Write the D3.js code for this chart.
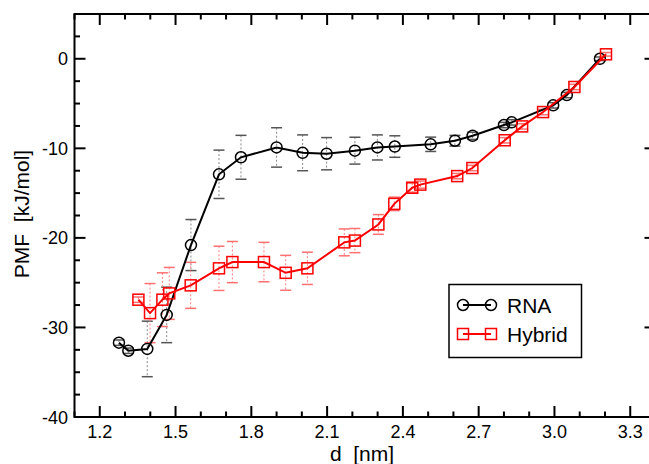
<!DOCTYPE html>
<html>
<head>
<meta charset="utf-8">
<script src="https://cdn.jsdelivr.net/npm/d3@7"></script>
<style>
  body { margin: 0; background: #fff; }
  svg { display: block; font-family: "Liberation Sans", Arial, sans-serif; }
</style>
</head>
<body>
<svg class="mainSvg"></svg>
<script>
(function () {
  // ===========================================================================
  //     data area
  // ===========================================================================
  const rnaX = [1.276, 1.313, 1.388, 1.465, 1.561, 1.672, 1.759, 1.9, 2.003, 2.098, 2.21,
    2.299, 2.368, 2.51, 2.606, 2.676, 2.80, 2.831, 2.995, 3.049, 3.18];
  const rnaY = [-31.7, -32.6, -32.4, -28.6, -20.8, -12.9, -11.0, -9.9, -10.5, -10.6, -10.26,
    -9.9, -9.8, -9.55, -9.15, -8.6, -7.4, -7.1, -5.2, -4.05, 0];
  const rnaErr = [0.3, 0.3, 3.1, 3.1, 2.85, 2.7, 2.45, 2.2, 2.0, 1.8, 1.5,
    1.4, 1.2, 0.8, 0.6, 0.4, 0.3, 0.3, 0.3, 0.3, 0.2];

  const hybX = [1.353, 1.399, 1.448, 1.475, 1.56, 1.672, 1.725, 1.85, 1.936, 2.022, 2.168, 2.21,
    2.303, 2.366, 2.437, 2.469, 2.615, 2.675, 2.803, 2.872, 2.955, 3.079, 3.204];
  const hybY = [-26.9, -28.4, -26.9, -26.2, -25.3, -23.4, -22.7, -22.7, -23.9, -23.4, -20.5, -20.3,
    -18.5, -16.2, -14.4, -14.05, -13.1, -12.2, -9.1, -7.55, -5.95, -3.15, 0.5];
  const hybErr = [0.3, 3.3, 3.0, 2.9, 2.57, 2.47, 2.3, 2.2, 1.95, 1.8, 1.5, 1.35,
    1.1, 0.75, 0.5, 0.4, 0.3, 0.3, 0.3, 0.3, 0.3, 0.3, 0.2];

  const xTicks = [1.2, 1.5, 1.8, 2.1, 2.4, 2.7, 3.0, 3.3];
  const yTicks = [0, -10, -20, -30, -40];
  const seriesNames = ['RNA', 'Hybrid'];

  const initWidth = 649;
  const initHeight = 464;
  const plot = { left: 74.5, top: 14, right: 655.5, bottom: 417 };

  // ===========================================================================
  //      procedure
  // ===========================================================================
  const svg = d3.select('.mainSvg')
    .attr('width', initWidth)
    .attr('height', initHeight);

  const x = d3.scaleLinear().domain([1.1, 3.4]).range([plot.left, plot.right]);
  const y = d3.scaleLinear().domain([-40, 5]).range([plot.bottom, plot.top]);

  const series = [
    {
      name: seriesNames[0], color: '#000', errColor: '#888', capColor: '#555', shape: 'circle',
      points: rnaX.map((v, i) => ({ x: v, y: rnaY[i], e: rnaErr[i] })),
    },
    {
      name: seriesNames[1], color: '#ff0000', errColor: '#ff8080', capColor: '#ff7070', shape: 'square',
      points: hybX.map((v, i) => ({ x: v, y: hybY[i], e: hybErr[i] })),
    },
  ];

  // ===========================================================================
  //      axes
  // ===========================================================================
  const minorX = d3.range(1.1, 3.41, 0.1).map(v => +v.toFixed(2));
  const minorY = d3.range(-40, 5.1, 2.5);

  const frame = svg.append('g').attr('stroke', '#000').attr('stroke-width', 2);
  frame.append('rect')
    .attr('x', plot.left).attr('y', plot.top)
    .attr('width', plot.right - plot.left).attr('height', plot.bottom - plot.top)
    .attr('fill', 'none');

  minorX.forEach(function (v) {
    const major = xTicks.some(t => Math.abs(t - v) < 1e-6);
    const len = major ? 11 : 5.5;
    frame.append('line').attr('x1', x(v)).attr('x2', x(v))
      .attr('y1', plot.bottom).attr('y2', plot.bottom - len);
    frame.append('line').attr('x1', x(v)).attr('x2', x(v))
      .attr('y1', plot.top).attr('y2', plot.top + len);
  });
  minorY.forEach(function (v) {
    const major = yTicks.indexOf(v) >= 0;
    const len = major ? 11 : 5.5;
    frame.append('line').attr('y1', y(v)).attr('y2', y(v))
      .attr('x1', plot.left).attr('x2', plot.left + len);
    frame.append('line').attr('y1', y(v)).attr('y2', y(v))
      .attr('x1', plot.right).attr('x2', plot.right - len);
  });

  svg.append('g').selectAll('text')
    .data(xTicks)
    .enter()
    .append('text')
    .attr('x', d => x(d))
    .attr('y', 438)
    .attr('text-anchor', 'middle')
    .attr('font-size', 18)
    .text(d => d.toFixed(1));

  svg.append('g').selectAll('text')
    .data(yTicks)
    .enter()
    .append('text')
    .attr('x', 68)
    .attr('y', d => y(d) + 6.5)
    .attr('text-anchor', 'end')
    .attr('font-size', 18)
    .text(d => d);

  svg.append('text')
    .attr('x', 362).attr('y', 461)
    .attr('text-anchor', 'middle')
    .attr('font-size', 21)
    .attr('xml:space', 'preserve')
    .text('d  [nm]');

  svg.append('text')
    .attr('transform', 'translate(29,214) rotate(-90)')
    .attr('text-anchor', 'middle')
    .attr('font-size', 21)
    .attr('xml:space', 'preserve')
    .text('PMF  [kJ/mol]');

  // ===========================================================================
  //      error bars, lines, markers
  // ===========================================================================
  function drawMarker(g, shape, cx, cy, color) {
    if (shape === 'circle') {
      g.append('circle').attr('cx', cx).attr('cy', cy).attr('r', 5.5)
        .attr('fill', 'none').attr('stroke', color).attr('stroke-width', 1.5);
    } else {
      g.append('rect').attr('x', cx - 5.5).attr('y', cy - 5.5)
        .attr('width', 11).attr('height', 11)
        .attr('fill', 'none').attr('stroke', color).attr('stroke-width', 1.5);
    }
  }

  const line = d3.line().x(d => x(d.x)).y(d => y(d.y));

  series.forEach(function (s) {
    const eg = svg.append('g');
    s.points.forEach(function (p) {
      const top = y(p.y + p.e);
      const bot = y(p.y - p.e);
      eg.append('line').attr('x1', x(p.x)).attr('x2', x(p.x))
        .attr('y1', top).attr('y2', bot)
        .attr('stroke', s.errColor).attr('stroke-width', 1)
        .attr('stroke-dasharray', '2,2');
      [top, bot].forEach(function (yy) {
        eg.append('line').attr('x1', x(p.x) - 5.5).attr('x2', x(p.x) + 5.5)
          .attr('y1', yy).attr('y2', yy)
          .attr('stroke', s.capColor).attr('stroke-width', 1.5);
      });
    });
  });

  series.forEach(function (s) {
    svg.append('path')
      .attr('d', line(s.points))
      .attr('fill', 'none')
      .attr('stroke', s.color)
      .attr('stroke-width', 2);
    const mg = svg.append('g');
    s.points.forEach(function (p) {
      drawMarker(mg, s.shape, x(p.x), y(p.y), s.color);
    });
  });

  // ===========================================================================
  //      legend
  // ===========================================================================
  const legend = svg.append('g');
  legend.append('rect')
    .attr('x', 449).attr('y', 284.5).attr('width', 132.5).attr('height', 73)
    .attr('fill', '#fff').attr('stroke', '#000').attr('stroke-width', 1.5);
  series.forEach(function (s, i) {
    const ly = 305 + i * 29;
    legend.append('line').attr('x1', 463).attr('x2', 491)
      .attr('y1', ly).attr('y2', ly)
      .attr('stroke', s.color).attr('stroke-width', 2);
    drawMarker(legend, s.shape, 463, ly, s.color);
    drawMarker(legend, s.shape, 491, ly, s.color);
    legend.append('text')
      .attr('x', 507).attr('y', ly + 7.5)
      .attr('font-size', 21)
      .text(s.name);
  });
})();
</script>
</body>
</html>
